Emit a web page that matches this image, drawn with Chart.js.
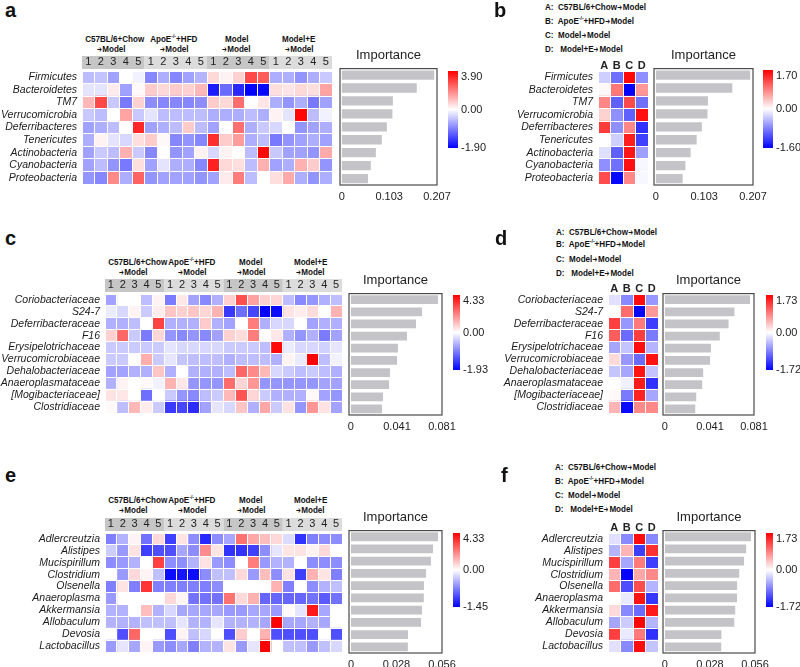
<!DOCTYPE html>
<html>
<head>
<meta charset="utf-8">
<script src="https://cdn.jsdelivr.net/npm/chart.js@4"></script>
<style>
  body { margin: 0; background: #fff; width: 800px; height: 667px; overflow: hidden; position: relative;
         font-family: 'Liberation Sans', Arial, sans-serif; color: #111; }
  canvas, .t { position: absolute; }
  .pl { font-weight: bold; font-size: 20px; line-height: 20px; }
  .gl, .lg { font-weight: bold; font-size: 9.5px; line-height: 10px; white-space: nowrap; }
  .gl { text-align: center; }
  .gl span, .lg span { display: inline-block; transform: scaleX(0.85); }
  .gl span { transform-origin: center; }
  .lg span { transform-origin: left; }
  .ar { font-family: 'DejaVu Sans', sans-serif; font-size: 8px; font-weight: bold; }
  sup { font-size: 6px; line-height: 0; vertical-align: 4px; }
</style>
</head>
<body>
<script>
// ---- data ----
const phylumRows = ["Firmicutes", "Bacteroidetes", "TM7", "Verrucomicrobia", "Deferribacteres",
  "Tenericutes", "Actinobacteria", "Cyanobacteria", "Proteobacteria"];
const familyRows = ["Coriobacteriaceae", "S24-7", "Deferribacteraceae", "F16", "Erysipelotrichaceae",
  "Verrucomicrobiaceae", "Dehalobacteriaceae", "Anaeroplasmataceae", "[Mogibacteriaceae]", "Clostridiaceae"];
const genusRows = ["Adlercreutzia", "Alistipes", "Mucispirillum", "Clostridium", "Olsenella",
  "Anaeroplasma", "Akkermansia", "Allobaculum", "Devosia", "Lactobacillus"];

const sampleCols = ["1", "2", "3", "4", "5", "1", "2", "3", "4", "5", "1", "2", "3", "4", "5", "1", "2", "3", "4", "5"];
const groupCols = ["A", "B", "C", "D"];
const ARROW = '<span class="ar">➔</span>';
const groupNames = [["C57BL/6+Chow", ARROW + "Model"], ["ApoE<sup>-/-</sup>+HFD", ARROW + "Model"],
  ["Model", ARROW + "Model"], ["Model+E", ARROW + "Model"]];
const legendItems = ["A:&nbsp; C57BL/6+Chow" + ARROW + "Model", "B:&nbsp; ApoE<sup>-/-</sup>+HFD" + ARROW + "Model",
  "C:&nbsp; Model" + ARROW + "Model", "D:&nbsp;&nbsp; Model+E" + ARROW + "Model"];

// colour bar ranges [min, max]
const rangeA = [-1.90, 3.90];
const rangeB = [-1.60, 1.70];
const rangeC = [-1.93, 4.33];
const rangeD = [-1.72, 1.73];
const rangeE = [-1.45, 4.33];
const rangeF = [-1.72, 1.73];

// importance
const impPhylum = [0.201, 0.163, 0.111, 0.110, 0.098, 0.087, 0.074, 0.063, 0.057];
const impFamily = [0.0774, 0.0632, 0.0579, 0.0499, 0.0419, 0.0410, 0.0348, 0.0339, 0.0285, 0.0276];
const impGenus = [0.0535, 0.0505, 0.0492, 0.0462, 0.0449, 0.0448, 0.0437, 0.0431, 0.0351, 0.0350];
const ticksPhylum = [0, 0.103, 0.207];
const ticksFamily = [0, 0.041, 0.081];
const ticksGenus = [0, 0.028, 0.056];

// heatmap values, one row per taxon
const heatA = [
  [-0.5, -0.45, -0.7, 0, -0.1, -0.9, -0.6, -0.9, -0.7, -0.55, 0.6, 0.2, 0.7, 2.8, 2.5, -0.6, -0.6, -0.8, -0.6, -0.4],
  [-0.2, -0.2, 0.3, -0.7, 0.1, 0.8, 0.6, 0.8, 0.7, 1.1, -1.7, -1.1, -1.6, -1.9, -1.85, 0.5, 0.4, 0.6, 0.5, 1.4],
  [1.1, 2.8, -0.4, -1.0, 0.7, -0.85, -0.9, -0.9, -0.9, -0.85, 0.8, 0.6, 2.2, 0, 0.4, -0.6, -0.8, -0.6, -1.0, -0.7],
  [-0.4, -0.5, 0, 1.4, -0.4, -0.2, -0.5, -0.5, -0.5, -0.5, -0.6, -0.6, -0.6, -0.5, -0.6, 0.2, -0.2, 3.8, -0.5, -0.1],
  [-0.7, -0.6, -0.5, 0, 3.3, -0.7, -0.6, -0.5, 0.8, -0.5, -0.7, 0, 2.2, -0.6, -0.4, -0.3, 0, -0.8, -0.7, -0.6],
  [-0.6, 0.2, -0.2, -0.3, 0.5, 0.8, 0.1, -0.9, -0.8, -0.9, 3.2, 0.8, 1.5, -0.6, -0.5, -1.0, -0.8, -0.7, -0.6, -0.7],
  [-0.7, -0.4, -0.5, 1.2, -0.4, -0.9, 0, -0.8, -0.7, 0.2, -0.3, 0.2, 0, -0.5, 3.8, -0.4, -0.7, -0.7, -0.8, 1.3],
  [-0.7, -0.5, -0.8, -1.0, 0.5, -0.7, -0.2, -0.6, -0.6, -0.9, 3.4, 0.6, 0.5, -0.5, 1.2, -0.7, -0.6, 1.2, 0.8, -0.8],
  [-0.8, -0.9, 1.8, -0.6, 2.4, -0.8, -0.7, -0.7, -0.7, -0.8, -0.7, 0.3, 2.0, -0.5, 0, 0.5, 1.3, -0.6, -0.8, -0.6],
];
const heatB = [
  [-0.3, -0.9, 1.65, -0.7], [0.05, 0.9, -1.6, 0.7], [0.8, -1.0, 1.2, -0.9], [0.3, -0.7, -1.0, 1.6],
  [1.3, -0.7, 0.8, -1.3], [0, -0.3, 1.5, -1.2], [-0.2, -1.0, 1.55, -0.6], [-0.7, -0.9, 1.6, -0.05],
  [1.2, -1.55, 0.8, -0.05],
];
const heatC = [
  [-0.7, 0, 0, -0.5, 0.2, -1.0, 0.4, -0.7, -0.9, -0.6, 0.8, 3.0, 1.6, 0.8, 0.7, -0.5, -0.9, -0.8, -0.6, -0.5],
  [-0.15, -0.3, 0.2, -0.4, 0.3, 1.0, 0.8, 1.0, 0.7, 1.3, -1.5, -1.1, -1.4, -1.93, -1.85, 0.5, 0.3, 0.6, 0, 1.3],
  [-0.6, -0.6, -0.5, 0, 3.2, -0.6, -0.6, -0.6, 0.9, -0.6, -0.7, 0, 2.2, -0.6, -0.3, -0.3, 0, -0.7, -0.6, -0.6],
  [0.8, 2.6, -0.4, -1.0, 0.7, -0.8, -0.9, -0.8, -0.9, -0.7, 0.8, 0.6, 2.2, 0, 0.4, -0.6, -0.8, -0.6, -1.0, -0.7],
  [-0.4, -0.4, -0.4, -0.4, -0.4, -0.2, -0.3, -0.3, -0.3, -0.3, -0.4, -0.4, -0.4, -0.5, 4.2, -0.15, -0.3, -0.3, -0.35, -0.2],
  [-0.4, -0.4, 0, 1.4, -0.4, -0.2, -0.45, -0.5, -0.5, -0.5, -0.6, -0.5, -0.5, -0.5, -0.6, 0.2, -0.15, 4.3, -0.5, -0.1],
  [-0.7, -0.7, -0.6, -0.6, 1.0, -0.6, 0, -0.6, -0.6, -0.6, -0.5, 2.6, 2.0, 1.2, -0.3, -0.4, -0.5, -0.4, -0.5, -0.6],
  [-0.6, 0.2, 0, 0.1, -0.1, 1.3, 0.4, -0.8, -0.8, -0.8, 2.5, 0.7, 1.8, -0.8, -0.8, -0.8, -0.8, -0.8, -0.7, -0.7],
  [0.5, 0.4, 0, -1.1, 0, -0.4, -0.8, -0.9, -0.5, -0.4, 1.2, 2.9, 0.7, -0.4, -0.6, -0.6, -0.6, 0.1, -0.7, -0.8],
  [0.1, -0.5, 1.2, 0.3, -0.4, -1.5, -1.4, -1.6, -0.7, -0.2, -0.3, 1.0, -0.6, 1.5, -0.4, 0.5, -0.8, 1.8, 0.5, -0.7],
];
const heatD = [
  [-0.2, -0.8, 1.65, -0.7], [0, 1.0, -1.7, 0.7], [1.3, -0.7, 0.9, -1.3], [1.1, -1.0, 1.3, -0.9],
  [-0.6, -0.4, 1.65, -0.5], [0.25, -0.7, -1.0, 1.6], [-0.4, -0.6, 1.6, -0.4], [0, -0.1, 1.55, -1.4],
  [0.05, -0.9, 1.5, -0.6], [0.5, -1.65, 0.8, 0.8],
];
const heatE = [
  [-0.73, -0.44, 0.2, -0.8, 0.65, -1.09, 0.45, -0.65, -1.23, -0.65, -0.5, 2.4, 1.5, 1.1, 0.65, -0.2, -1.16, -0.73, -0.65, -0.65],
  [-0.29, -0.58, 0.5, -1.09, -1.0, -1.0, -0.5, -0.65, 1.95, 0.45, -1.16, -1.16, -1.09, -0.65, -0.15, 0.45, 0.5, 0.22, 0.65, 0],
  [-0.65, -0.58, -0.44, 0, 3.25, -0.65, -0.65, -0.44, 0.5, -0.58, -0.65, 0, 2.2, -0.58, -0.44, -0.44, 0, -0.65, -0.65, -0.65],
  [0, -0.58, 0.65, 0.2, -0.36, -1.38, -1.33, -1.38, -0.65, -0.36, -0.36, 0.65, -0.58, 1.1, -0.65, 0.5, -1.09, 1.3, 0.45, -0.73],
  [-0.73, 0.45, -0.73, 3.45, -0.73, -0.73, -0.73, -0.73, -0.73, -0.65, 0, 0, 0, 0, 1.3, -0.73, 0, -0.65, -0.44, -0.36],
  [-0.58, 0, 0, 0, 0, 0.65, 0.2, -0.8, -0.8, -0.8, 2.4, 0.65, 1.3, -0.87, -0.87, -0.87, -0.87, -0.8, -0.94, -0.8],
  [-0.44, -0.44, 0, 1.1, -0.44, -0.22, -0.5, -0.5, -0.5, -0.5, -0.58, -0.58, -0.5, -0.5, -0.58, 0.1, -0.15, 3.9, -0.5, 0],
  [-0.44, -0.44, -0.44, -0.36, -0.36, -0.36, -0.15, -0.44, -0.44, -0.15, -0.44, -0.44, -0.44, -0.5, 4.33, -0.5, -0.5, -0.44, -0.5, 0],
  [0, -1.0, 2.6, 0, 0, -1.0, 0.2, -0.36, -0.22, 0, -1.0, 0.85, 0, 1.3, -1.0, -1.0, -1.0, -1.0, 0, -1.0],
  [-0.58, -0.15, -0.5, 0.2, -0.58, -0.65, -0.5, -0.73, -0.44, -0.44, 0.45, -0.58, -0.15, 4.3, 0, -0.36, -0.36, -0.58, -0.36, -0.22],
];
const heatF = [
  [-0.2, -0.8, 1.65, -0.8], [-0.5, 0.5, -1.3, 1.4], [1.3, -0.6, 0.9, -1.3], [0.5, -1.7, 0.6, 0.8],
  [1.0, -1.2, 1.2, -0.5], [0, -0.15, 1.6, -1.35], [0.25, -0.8, -1.0, 1.55], [-0.6, -0.35, 1.7, -0.5],
  [1.3, -0.15, 0.9, -1.4], [-0.2, -0.8, 1.65, -0.4],
];

// ---- helpers ----
Chart.defaults.font.family = "'Liberation Sans', Arial, sans-serif";
Chart.defaults.color = "#222";
Chart.defaults.animation = false;
Chart.defaults.responsive = false;
Chart.defaults.plugins.legend.display = false;
Chart.defaults.plugins.tooltip.enabled = false;

// matplotlib "bwr", t in [-1, 1]
function bwr(t) {
  if (t < 0) {
    const k = Math.round(255 * (1 + t));
    return `rgb(${k},${k},255)`;
  }
  const k = Math.round(255 * (1 - t));
  return `rgb(255,${k},${k})`;
}
// two-slope norm centred on 0
function norm(v, range) {
  return v < 0 ? Math.max(-1, v / -range[0]) : Math.min(1, v / range[1]);
}

function addCanvas(left, top, w, h) {
  const c = document.createElement("canvas");
  c.width = w;
  c.height = h;
  c.style.left = left + "px";
  c.style.top = top + "px";
  document.body.appendChild(c);
  return c;
}
function addText(cls, left, top, html, width) {
  const d = document.createElement("div");
  d.className = "t " + cls;
  d.style.left = left + "px";
  d.style.top = top + "px";
  if (width) d.style.width = width + "px";
  d.innerHTML = html;
  document.body.appendChild(d);
}
// no label overhang padding on vertical axes
function noPad(s) {
  s.paddingTop = 0;
  s.paddingBottom = 0;
}

// grey strip behind the sample numbers
const stripPlugin = {
  id: "strip",
  beforeDraw(chart, args, opts) {
    if (!opts.groups) return;
    const s = chart.scales.top;
    const ctx = chart.ctx;
    const size = chart.data.datasets.length / opts.groups;
    for (let g = 0; g < opts.groups; g++) {
      const x0 = s.getPixelForValue(g * size);
      const x1 = s.getPixelForValue((g + 1) * size);
      ctx.fillStyle = g % 2 ? "#dcdcdc" : "#c6c6c6";
      ctx.fillRect(x0, s.top + 2, x1 - x0, s.bottom - s.top - 4);
    }
  },
};

// frame round the importance plot
const framePlugin = {
  id: "frame",
  afterDatasetsDraw(chart) {
    const a = chart.chartArea;
    const ctx = chart.ctx;
    ctx.save();
    ctx.strokeStyle = "#4a4a4a";
    ctx.lineWidth = 1.2;
    ctx.strokeRect(a.left, a.top, a.right - a.left, a.bottom - a.top);
    ctx.restore();
  },
};

// second colour-bar label axis shares the place of the first one
const shareAxisPlugin = {
  id: "shareAxis",
  afterLayout(chart) {
    const a = chart.scales.y;
    const b = chart.scales.y2;
    b.left = a.left;
    b.right = a.right;
    b.width = a.width;
  },
};

function heatmap(box, rows, cols, values, range, o) {
  const n = cols.length;
  return new Chart(addCanvas(...box), {
    type: "bar",
    data: {
      labels: rows,
      datasets: cols.map((c, j) => ({
        data: rows.map(() => 1),
        backgroundColor: rows.map((r, i) => bwr(norm(values[i][j], range))),
        borderWidth: 0,
        barPercentage: 1,
        categoryPercentage: 1,
      })),
    },
    options: {
      indexAxis: "y",
      layout: { padding: { right: 2, bottom: 1 } },
      plugins: { strip: { groups: o.groups || 0 } },
      scales: {
        x: {
          type: "linear",
          stacked: true,
          min: 0,
          max: n,
          afterBuildTicks: (s) => {
            s.ticks = Array.from({ length: n + 1 }, (_, k) => ({ value: k }));
          },
          afterFit: (s) => {
            s.height = 0;
          },
          ticks: { display: false },
          grid: { color: "#fff", lineWidth: 1, z: 1, drawTicks: false },
          border: { display: false },
        },
        top: {
          type: "linear",
          position: "top",
          min: 0,
          max: n,
          afterBuildTicks: (s) => {
            s.ticks = cols.map((c, j) => ({ value: j + 0.5 }));
          },
          afterFit: (s) => {
            s.height = 17;
          },
          ticks: {
            callback: (v, i) => cols[i],
            autoSkip: false,
            maxRotation: 0,
            padding: o.colPad,
            color: "#222",
            font: { size: 11, weight: o.colWeight || "normal" },
          },
          grid: { display: false, drawTicks: false },
          border: { display: false },
        },
        y: {
          stacked: true,
          afterFit: (s) => {
            s.width = o.labelWidth;
            noPad(s);
          },
          ticks: { autoSkip: false, padding: 5, color: "#1a1a1a", font: { size: 10.5, style: "italic" } },
          grid: { color: "#fff", lineWidth: 1, z: 1, drawTicks: false },
          border: { display: false },
        },
      },
    },
    plugins: [stripPlugin],
  });
}

function importance(box, rows, vals, ticks, min) {
  return new Chart(addCanvas(...box), {
    type: "bar",
    data: {
      labels: rows,
      datasets: [{ data: vals, backgroundColor: "#c4c4c8", barPercentage: 0.72, categoryPercentage: 1 }],
    },
    options: {
      indexAxis: "y",
      layout: { padding: { left: 20, right: 20 } },
      plugins: {
        title: {
          display: true,
          text: "Importance",
          color: "#222",
          font: { size: 13, weight: "normal" },
          padding: { top: 2, bottom: 5 },
        },
      },
      scales: {
        x: {
          min: min,
          max: ticks[ticks.length - 1],
          afterBuildTicks: (s) => {
            s.ticks = ticks.map((v) => ({ value: v }));
          },
          afterFit: (s) => {
            s.height = 22;
          },
          ticks: {
            callback: (v) => (v === 0 ? "0" : v.toFixed(3)),
            color: "#222",
            font: { size: 11 },
            padding: 5,
            maxRotation: 0,
            autoSkip: false,
          },
          grid: { display: false, drawTicks: false },
          border: { display: false },
        },
        y: { display: false },
      },
    },
    plugins: [framePlugin],
  });
}

// colour bar: the top label hangs below the top edge, the others are centred
function colorbar(box, range, barWidth) {
  const labelAxis = (values, align, width) => ({
    position: "right",
    min: -1,
    max: 1,
    afterBuildTicks: (s) => {
      s.ticks = values.map((v) => ({ value: v }));
    },
    afterFit: (s) => {
      s.width = width;
      noPad(s);
    },
    ticks: {
      callback: (v) => (v < 0 ? range[0] : v > 0 ? range[1] : 0).toFixed(2),
      color: "#222",
      font: { size: 11 },
      padding: 3,
      align: align,
    },
    grid: { display: false, drawTicks: false },
    border: { display: false },
  });
  return new Chart(addCanvas(...box), {
    type: "bar",
    data: {
      labels: [""],
      datasets: [{
        data: [[-1, 1]],
        borderWidth: 0,
        barPercentage: 1,
        categoryPercentage: 1,
        backgroundColor: (c) => {
          const a = c.chart.chartArea;
          if (!a) return null;
          const g = c.chart.ctx.createLinearGradient(0, a.bottom, 0, a.top);
          g.addColorStop(0, bwr(-1));
          g.addColorStop(0.5, bwr(0));
          g.addColorStop(1, bwr(1));
          return g;
        },
      }],
    },
    options: {
      layout: { padding: { top: 7, bottom: 7 } },
      scales: {
        x: { display: false },
        y: labelAxis([1], "start", box[2] - barWidth),
        y2: labelAxis([0, -1], "center", 0),
      },
    },
    plugins: [shareAxisPlugin],
  });
}

function groupLabels(x0, width, top) {
  const gw = width / groupNames.length;
  groupNames.forEach((g, k) => {
    addText("gl", x0 + k * gw, top, `<span>${g[0]}</span>`, gw);
    addText("gl", x0 + k * gw, top + 10, `<span>${g[1]}</span>`, gw);
  });
}
function legend(left, tops) {
  legendItems.forEach((s, k) => addText("lg", left, tops[k], `<span>${s}</span>`));
}

// ---- panels a / b : phylum ----
addText("pl", 5, 0, "a");
groupLabels(80, 250, 34);
heatmap([0, 54, 334, 131], phylumRows, sampleCols, heatA, rangeA, { labelWidth: 82, groups: 4, colPad: 2 });
importance([320, 46, 137, 161], phylumRows, impPhylum, ticksPhylum, -0.004);
colorbar([448, 64, 50, 91], rangeA, 10);

addText("pl", 494, 0, "b");
legend(545, [2, 16, 30, 44]);
heatmap([450, 54, 200, 131], phylumRows, groupCols, heatB, rangeB, { labelWidth: 148, colPad: -1.6, colWeight: "bold" });
importance([634, 46, 139, 161], phylumRows, impPhylum, ticksPhylum, -0.004);
colorbar([763, 63, 37, 92], rangeB, 10);

// ---- panels c / d : family ----
addText("pl", 5, 228, "c");
groupLabels(103, 237, 257);
heatmap([0, 277, 344, 137], familyRows, sampleCols, heatC, rangeC, { labelWidth: 105, groups: 4, colPad: 2 });
importance([329, 271, 133, 166], familyRows, impFamily, ticksFamily, -0.0017);
colorbar([453, 288, 47, 89], rangeC, 7);

addText("pl", 495, 228, "d");
legend(556, [227, 239, 254, 268]);
heatmap([450, 277, 210, 137], familyRows, groupCols, heatD, rangeD, { labelWidth: 158, colPad: -1.6, colWeight: "bold" });
importance([643, 271, 131, 166], familyRows, impFamily, ticksFamily, -0.0017);
colorbar([766, 288, 34, 89], rangeD, 7);

// ---- panels e / f : genus ----
addText("pl", 5, 465, "e");
groupLabels(103, 237, 495);
heatmap([0, 516, 344, 137], genusRows, sampleCols, heatE, rangeE, { labelWidth: 105, groups: 4, colPad: 2 });
importance([329, 508, 133, 167], genusRows, impGenus, ticksGenus, -0.0012);
colorbar([453, 526, 47, 88], rangeE, 7);

addText("pl", 501, 465, "f");
legend(555, [462, 476, 490, 504]);
heatmap([450, 516, 210, 137], genusRows, groupCols, heatF, rangeF, { labelWidth: 158, colPad: -1.6, colWeight: "bold" });
importance([643, 508, 132, 167], genusRows, impGenus, ticksGenus, -0.0012);
colorbar([766, 526, 34, 88], rangeF, 7);
</script>
</body>
</html>
